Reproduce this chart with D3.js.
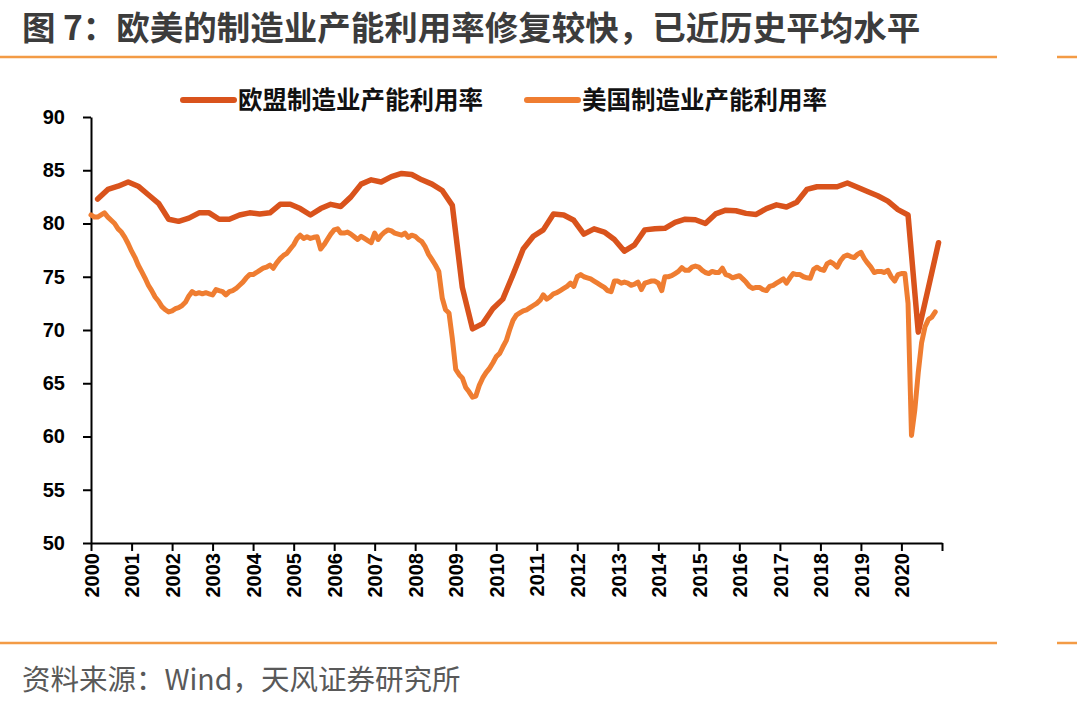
<!DOCTYPE html>
<html>
<head>
<meta charset="utf-8">
<script src="https://cdn.jsdelivr.net/npm/d3@7"></script>
<style>
  html, body { margin: 0; padding: 0; background: #ffffff; }
  svg { display: block; }
</style>
</head>
<body>
<svg id="chart" width="1077" height="706"></svg>
<script>
// ---------------- DATA ----------------
const titleText = "图 7：欧美的制造业产能利用率修复较快，已近历史平均水平";
const sourceText = "资料来源：Wind，天风证券研究所";
const seriesNames = ["欧盟制造业产能利用率", "美国制造业产能利用率"];

// EU: quarterly, first point 2000-03, last 2020-12
const euValues = [
  82.3, 83.2, 83.5, 83.9, 83.5, 82.7, 81.9, 80.4, 80.2, 80.5,
  81.0, 81.0, 80.4, 80.4, 80.8, 81.0, 80.9, 81.0, 81.8, 81.8,
  81.4, 80.8, 81.4, 81.8, 81.6, 82.5, 83.7, 84.1, 83.9, 84.4,
  84.7, 84.6, 84.1, 83.7, 83.1, 81.7, 74.0, 70.1, 70.6, 72.0,
  72.9, 75.2, 77.6, 78.8, 79.4, 80.9, 80.8, 80.3, 79.0, 79.5,
  79.2, 78.5, 77.4, 78.0, 79.4, 79.5, 79.55, 80.1, 80.4, 80.35,
  80.0, 80.9, 81.25, 81.2, 80.95, 80.85, 81.4, 81.75, 81.55, 82.0,
  83.2, 83.45, 83.45, 83.45, 83.8, 83.4, 83.0, 82.6, 82.1, 81.3,
  80.8, 69.8, 74.0, 78.2
];

// US: monthly, first point 2000-01, last 2020-11
const usValues = [
  80.8, 80.6, 80.6, 80.8, 81.0, 80.6, 80.3, 80.0, 79.5, 79.2, 78.7, 78.1,
  77.4, 76.8, 76.1, 75.5, 74.9, 74.2, 73.7, 73.1, 72.7, 72.2, 71.9, 71.7,
  71.8, 72.0, 72.1, 72.3, 72.6, 73.2, 73.6, 73.4, 73.5, 73.4, 73.5, 73.4,
  73.3, 73.8, 73.7, 73.6, 73.3, 73.6, 73.7, 73.9, 74.2, 74.5, 74.9, 75.2,
  75.2, 75.4, 75.6, 75.8, 75.9, 76.1, 75.8, 76.3, 76.7, 77.0, 77.2, 77.6,
  78.0, 78.6, 78.9, 78.6, 78.75, 78.6, 78.7, 78.75, 77.6, 78.0, 78.5, 79.0,
  79.4, 79.5, 79.1, 79.1, 79.2, 79.0, 78.75, 78.5, 78.8, 78.6, 78.4, 78.2,
  79.1, 78.5, 78.9, 79.2, 79.4, 79.3, 79.1, 79.0, 78.9, 79.1, 78.7, 78.9,
  78.8, 78.5, 78.3, 77.8, 77.1, 76.6, 76.1, 75.5, 73.0, 71.9, 71.6, 69.2,
  66.3, 65.8, 65.5, 64.6, 64.2, 63.7, 63.8, 64.8, 65.5, 66.0, 66.4, 66.9,
  67.5, 67.8, 68.4, 69.0, 70.0, 70.9, 71.4, 71.6, 71.8, 71.9, 72.1, 72.3,
  72.5, 72.8, 73.3, 72.9, 73.1, 73.4, 73.5, 73.7, 73.9, 74.1, 74.4, 74.1,
  75.0, 75.2, 75.0, 74.9, 74.8, 74.6, 74.4, 74.2, 74.0, 73.7, 73.6, 74.6,
  74.6, 74.4, 74.5, 74.4, 74.2, 74.3, 74.5, 73.8, 74.4, 74.5, 74.6, 74.6,
  74.4, 73.7, 75.0, 75.0, 75.1, 75.3, 75.5, 75.85, 75.6, 75.6, 75.9, 76.0,
  75.9, 75.6, 75.4, 75.3, 75.5, 75.4, 75.4, 75.8, 75.2, 75.1, 74.9, 75.0,
  75.1, 74.8, 74.5, 74.1, 73.9, 74.0, 74.0, 73.8, 73.7, 74.1, 74.2, 74.4,
  74.6, 74.8, 74.4, 74.9, 75.3, 75.2, 75.2, 75.0, 74.9, 74.85, 75.7, 75.9,
  75.7, 75.6, 76.2, 76.4, 76.2, 75.9, 76.5, 76.9, 77.05, 76.9, 76.8, 77.1,
  77.3, 76.7, 76.3, 75.9, 75.4, 75.5, 75.5, 75.4, 75.6, 75.0, 74.6, 75.2,
  75.3, 75.3, 72.5, 60.1, 62.5, 66.0, 68.8, 70.3, 71.0, 71.2, 71.7
];

const yTicks = [50, 55, 60, 65, 70, 75, 80, 85, 90];
const xYears = [2000, 2001, 2002, 2003, 2004, 2005, 2006, 2007, 2008, 2009, 2010,
                2011, 2012, 2013, 2014, 2015, 2016, 2017, 2018, 2019, 2020, 2021];

// ---------------- CHART ----------------
const euColor = "#D9531C";
const usColor = "#EF7D31";
const ruleColor = "#F39B45";
const numFont = "'Liberation Sans', Arial, sans-serif";
const cjkFont = "'Noto Sans CJK SC', 'Noto Sans', sans-serif";

const svg = d3.select("#chart");

// title
svg.append("text")
  .attr("x", 22).attr("y", 39.5)
  .attr("font-family", cjkFont).attr("font-weight", "bold")
  .attr("font-size", 33.5).attr("fill", "#3c3c3c")
  .text(titleText);

// orange rules
[57, 643].forEach(yy => {
  svg.append("line").attr("x1", 0).attr("x2", 997).attr("y1", yy).attr("y2", yy)
    .attr("stroke", ruleColor).attr("stroke-width", 2.5);
  svg.append("line").attr("x1", 1057).attr("x2", 1077).attr("y1", yy).attr("y2", yy)
    .attr("stroke", ruleColor).attr("stroke-width", 2.5);
});

// source
svg.append("text")
  .attr("x", 22).attr("y", 690)
  .attr("font-family", cjkFont)
  .attr("font-size", 28.5).attr("fill", "#595959")
  .text(sourceText);

// scales
const x = d3.scaleTime()
  .domain([new Date(2000, 0, 1), new Date(2021, 0, 1)])
  .range([91, 942]);
const y = d3.scaleLinear().domain([50, 90]).range([543, 117]);

const euData = euValues.map((v, i) => ({ date: new Date(2000, 2 + 3 * i, 1), value: v }));
const usData = usValues.map((v, i) => ({ date: new Date(2000, i, 1), value: v }));

// axes
const yAxis = svg.append("g")
  .attr("transform", "translate(91,0)")
  .call(d3.axisLeft(y).tickValues(yTicks).tickSize(8).tickPadding(18).tickSizeOuter(0));
yAxis.select(".domain").attr("stroke", "#000").attr("stroke-width", 2);
yAxis.selectAll(".tick line").attr("stroke", "#000").attr("stroke-width", 2);
yAxis.selectAll(".tick text")
  .attr("font-family", numFont).attr("font-weight", "bold")
  .attr("font-size", 20).attr("fill", "#000");

const xAxis = svg.append("g")
  .attr("transform", "translate(0,543)")
  .call(d3.axisBottom(x)
    .tickValues(xYears.map(yr => new Date(yr, 0, 1)))
    .tickSize(8).tickSizeOuter(0)
    .tickFormat(d => d.getFullYear() <= 2020 ? String(d.getFullYear()) : ""));
xAxis.select(".domain").attr("stroke", "#000").attr("stroke-width", 2);
xAxis.selectAll(".tick line").attr("stroke", "#000").attr("stroke-width", 2);
xAxis.selectAll(".tick text")
  .attr("font-family", numFont).attr("font-weight", "bold")
  .attr("font-size", 20).attr("fill", "#000")
  .attr("transform", "rotate(-90)")
  .attr("x", -10).attr("y", 0).attr("dy", "0.36em")
  .attr("text-anchor", "end");

// lines
const line = d3.line().x(d => x(d.date)).y(d => y(d.value));
svg.append("path").datum(euData)
  .attr("d", line).attr("fill", "none")
  .attr("stroke", euColor).attr("stroke-width", 5.5)
  .attr("stroke-linejoin", "round").attr("stroke-linecap", "round");
svg.append("path").datum(usData)
  .attr("d", line).attr("fill", "none")
  .attr("stroke", usColor).attr("stroke-width", 5)
  .attr("stroke-linejoin", "round").attr("stroke-linecap", "round");

// legend
const legendItems = [
  { name: seriesNames[0], color: euColor, x0: 183 },
  { name: seriesNames[1], color: usColor, x0: 527 }
];
legendItems.forEach(it => {
  svg.append("line")
    .attr("x1", it.x0).attr("x2", it.x0 + 51).attr("y1", 100).attr("y2", 100)
    .attr("stroke", it.color).attr("stroke-width", 6).attr("stroke-linecap", "round");
  svg.append("text")
    .attr("x", it.x0 + 55).attr("y", 100).attr("dy", "0.36em")
    .attr("font-family", cjkFont).attr("font-weight", "bold")
    .attr("font-size", 24.5).attr("fill", "#111")
    .text(it.name);
});
</script>
</body>
</html>
